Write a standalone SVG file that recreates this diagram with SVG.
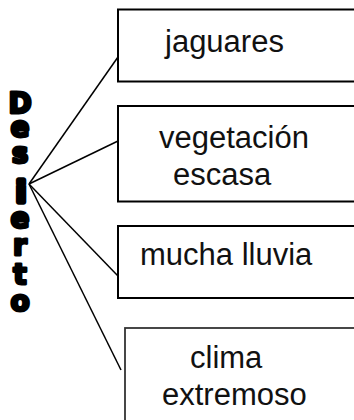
<svg xmlns="http://www.w3.org/2000/svg" width="354" height="420" viewBox="0 0 354 420">
<style>
.box{fill:#fff;stroke:#000;stroke-width:2}
.lbl{font-family:"Liberation Sans",Arial,sans-serif;font-size:31px;fill:#111}
.title{font-family:"DejaVu Sans","Liberation Sans",sans-serif;font-weight:bold;font-size:28px;fill:#000;stroke:#000;stroke-width:2.8;stroke-linejoin:round;text-anchor:middle}
.conn{stroke:#000;stroke-width:1.5;fill:none}
</style>
<rect width="354" height="420" fill="#fff"/>
<g id="connectors">
<line class="conn" x1="29" y1="184" x2="118" y2="57"/>
<line class="conn" x1="29" y1="184" x2="118" y2="141"/>
<line class="conn" x1="29" y1="184" x2="118" y2="276"/>
<line class="conn" x1="29" y1="184" x2="121" y2="370"/>
</g>
<g id="desierto">
<text class="title" x="20" y="113">D</text>
<text class="title" x="20" y="137">e</text>
<text class="title" x="20" y="163">s</text>
<text class="title" x="21" y="202" style="stroke-width:5.5">i</text>
<text class="title" x="20" y="228">e</text>
<text class="title" x="20" y="255">r</text>
<text class="title" x="20" y="284">t</text>
<text class="title" x="20" y="311">o</text>
</g>
<g id="n1">
<rect class="box" x="118" y="9.5" width="240" height="72"/>
<text class="lbl" x="165" y="52">jaguares</text>
</g>
<g id="n2">
<rect class="box" x="118" y="106" width="240" height="95.5"/>
<text class="lbl" x="159" y="148">vegetación</text>
<text class="lbl" x="173" y="185">escasa</text>
</g>
<g id="n3">
<rect class="box" x="118" y="226" width="240" height="72"/>
<text class="lbl" x="140" y="265">mucha lluvia</text>
</g>
<g id="n4">
<rect class="box" x="125" y="328" width="240" height="100" style="stroke:#333;stroke-width:1.8"/>
<text class="lbl" x="190" y="368">clima</text>
<text class="lbl" x="162" y="405">extremoso</text>
</g>
</svg>
